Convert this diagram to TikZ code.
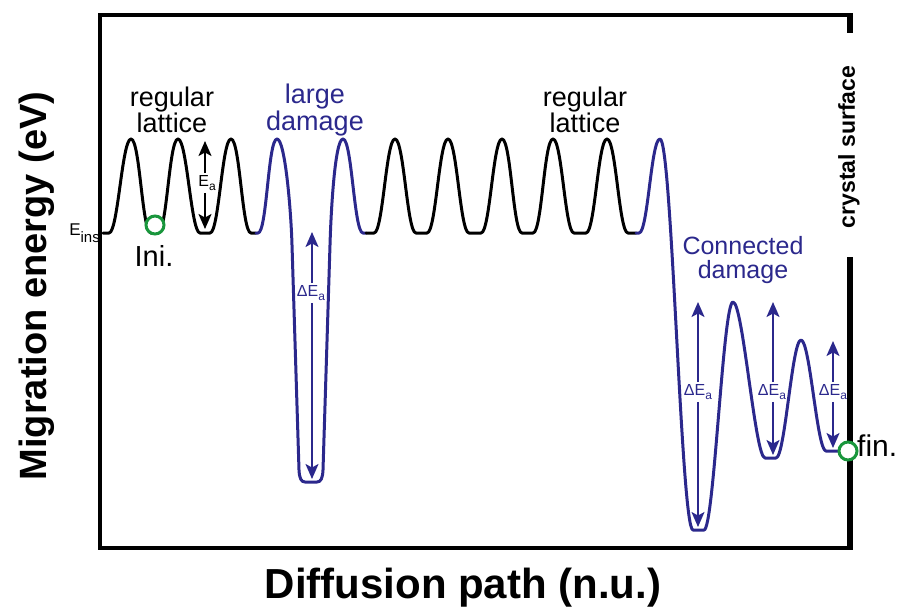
\documentclass[tikz,border=0pt]{standalone}
\usepackage{fontspec}
\setmainfont{Liberation Sans}
\usetikzlibrary{arrows.meta}
\definecolor{dblue}{RGB}{43,40,140}
\definecolor{cgreen}{RGB}{25,150,60}
\newcommand{\fs}[2]{\fontsize{#1}{#2}\selectfont}
\newcommand{\sbs}[3]{\raisebox{-#3pt}{\fs{#1}{#1}#2}}
\begin{document}
\begin{tikzpicture}[x=1pt,y=-1pt,
  curve/.style={line width=3pt, line join=round, line cap=round},
  frame/.style={line width=4pt},
  arr/.style={-{Stealth[length=15pt,width=13pt,inset=3.5pt]}, line width=1.8pt},
  big/.style={align=center, font=\fs{27}{24}, inner sep=0pt},
  mid/.style={align=center, font=\fs{25}{24}, inner sep=0pt},
  small/.style={font=\fs{16}{16}, inner sep=2pt},
  circ/.style={circle, draw=cgreen, line width=3pt, fill=white, minimum size=18pt, inner sep=0pt}]
\useasboundingbox (0,0) rectangle (903,608);
% frame
\draw[frame] (853,15) -- (100,15) -- (100,548) -- (853,548);
\draw[line width=6pt] (850,13) -- (850,33);
\draw[line width=6pt] (850,257) -- (850,550);
% regular lattice part 1
\draw[curve] (103,233) -- (109,233)
  .. controls +(9,0) and +(-9,0) .. (131,139)
  .. controls +(9,0) and +(-9,0) .. (151,233) -- (158,233)
  .. controls +(9,0) and +(-9,0) .. (178,139)
  .. controls +(9,0) and +(-9,0) .. (200,233) -- (210,233)
  .. controls +(9,0) and +(-9,0) .. (231,139)
  .. controls +(9,0) and +(-9,0) .. (251,233) -- (256,233);
% large damage
\draw[curve, dblue] (256,233) -- (258,233)
  .. controls +(9,0) and +(-9,0) .. (277,139)
  .. controls +(8,0) and +(-1,-35) .. (292,245)
  -- (299,470)
  .. controls +(0.4,8) and +(-4,0) .. (305,482) -- (317,482)
  .. controls +(4,0) and +(-0.4,8) .. (323,470)
  -- (330,245)
  .. controls +(1,-35) and +(-8,0) .. (343,139)
  .. controls +(9,0) and +(-9,0) .. (363,233) -- (366,233);
% regular lattice part 2
\draw[curve] (366,233) -- (374,233)
  .. controls +(9,0) and +(-9,0) .. (395,139)
  .. controls +(9,0) and +(-9,0) .. (416,233) -- (427,233)
  .. controls +(9,0) and +(-9,0) .. (448,139)
  .. controls +(9,0) and +(-9,0) .. (469,233) -- (481,233)
  .. controls +(9,0) and +(-9,0) .. (502,139)
  .. controls +(9,0) and +(-9,0) .. (522,233) -- (533,233)
  .. controls +(9,0) and +(-9,0) .. (553,139)
  .. controls +(9,0) and +(-9,0) .. (574,233) -- (586,233)
  .. controls +(9,0) and +(-9,0) .. (607,139)
  .. controls +(9,0) and +(-9,0) .. (628,233) -- (636,233);
% connected damage
\draw[curve, dblue] (636,233) -- (639,233)
  .. controls +(9,0) and +(-9,0) .. (660,139)
  .. controls +(12,0) and +(-12,0) .. (693,530) -- (704,530)
  .. controls +(10,0) and +(-10,0) .. (733,302)
  .. controls +(10,0) and +(-10,0) .. (765,458) -- (776,458)
  .. controls +(9,0) and +(-9,0) .. (801,340)
  .. controls +(9,0) and +(-9,0) .. (826,451) -- (848,451);
% circles
\node[circ] (inic) at (155,225) {};
\node[circ] (finc) at (848,451) {};
\node[anchor=base, font=\fs{29}{29}, inner sep=0pt] (ini) at (154,266) {Ini.};
\node[anchor=base west, font=\fs{30}{30}, inner sep=0pt] (fin) at (857,456) {fin.};
\node[anchor=base east, font=\fs{17}{17}, inner sep=0pt] (eins) at (100,235) {E\sbs{15}{ins}{7}};
% labels
\node[big] (rl1) at (172,110) {regular\\lattice};
\node[big, text=dblue] (ld) at (315,110) {large\\damage};
\node[big] (rl2) at (585,110) {regular\\lattice};
\node[mid, text=dblue] (cd) at (743,260) {Connected\\damage};
\node[rotate=90, font=\bfseries\fs{23}{23}, inner sep=0pt] (cs) at (849,147) {crystal surface};
\node[anchor=base, rotate=90, font=\bfseries\fs{38}{38}, inner sep=0pt] (ylab) at (46,286) {Migration energy (eV)};
\node[anchor=base, font=\bfseries\fs{42}{42}, inner sep=0pt] (xlab) at (463,598) {Diffusion path (n.u.)};
% Ea arrow
\coordinate (eatop) at (205,141);
\coordinate (eabot) at (205,229);
\node[small] (ea) at (207,183) {E\sbs{12}{a}{4}};
\draw[arr] (ea.north -| eatop) -- (eatop);
\draw[arr] (ea.south -| eabot) -- (eabot);
% large damage arrow
\coordinate (d1top) at (312,232);
\coordinate (d1bot) at (312,479);
\node[small, text=dblue] (d1) at (311,293) {ΔE\sbs{12}{a}{4}};
\draw[arr, dblue] (d1.north -| d1top) -- (d1top);
\draw[arr, dblue] (d1.south -| d1bot) -- (d1bot);
% connected damage arrows
\coordinate (d2top) at (698,302);
\coordinate (d2bot) at (698,527);
\node[small, text=dblue] (d2) at (698,392) {ΔE\sbs{12}{a}{4}};
\draw[arr, dblue] (d2.north -| d2top) -- (d2top);
\draw[arr, dblue] (d2.south -| d2bot) -- (d2bot);
\coordinate (d3top) at (773,302);
\coordinate (d3bot) at (773,455);
\node[small, text=dblue] (d3) at (772,392) {ΔE\sbs{12}{a}{4}};
\draw[arr, dblue] (d3.north -| d3top) -- (d3top);
\draw[arr, dblue] (d3.south -| d3bot) -- (d3bot);
\coordinate (d4top) at (833,341);
\coordinate (d4bot) at (833,448);
\node[small, text=dblue] (d4) at (833,392) {ΔE\sbs{12}{a}{4}};
\draw[arr, dblue] (d4.north -| d4top) -- (d4top);
\draw[arr, dblue] (d4.south -| d4bot) -- (d4bot);
\end{tikzpicture}
\end{document}
